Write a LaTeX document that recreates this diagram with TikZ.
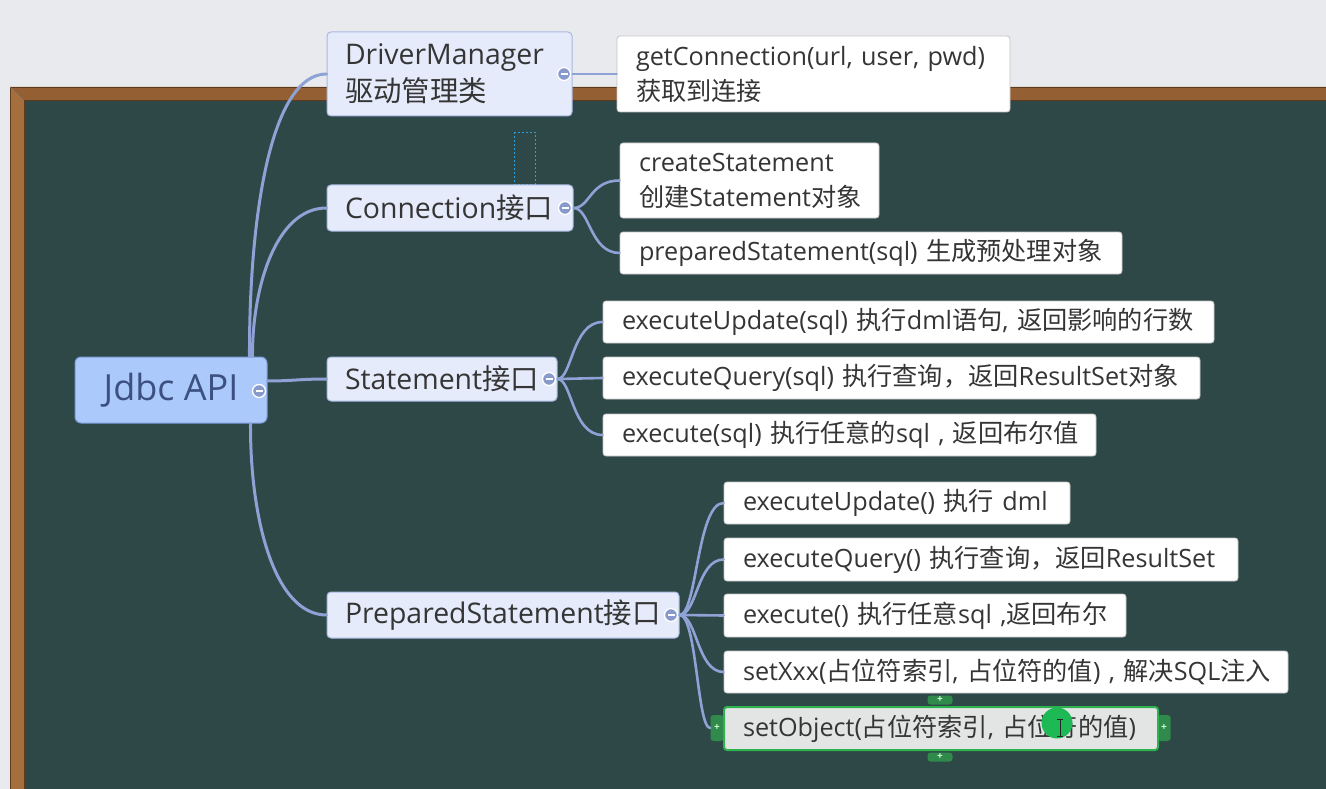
\documentclass[tikz,border=0pt]{standalone}
\usepackage{fontspec}
\setmainfont{Open Sans}
\newfontfamily\zhfont{Noto Sans CJK SC}
\newcommand\zh[1]{{\zhfont #1}}
\usetikzlibrary{calc}
\definecolor{bgc}{HTML}{E9EAED}
\definecolor{boardc}{HTML}{2E4847}
\definecolor{frametop}{HTML}{935F33}
\definecolor{frameleft}{HTML}{A56E3D}
\definecolor{framedark}{HTML}{5E3B1E}
\definecolor{linkc}{HTML}{8EA2D6}
\definecolor{rootfill}{HTML}{ABC9FA}
\definecolor{rootdraw}{HTML}{7C9BD8}
\definecolor{rootText}{HTML}{3C5181}
\definecolor{lvfill}{HTML}{E5EBFB}
\definecolor{lvdraw}{HTML}{A9B8E2}
\definecolor{leafdraw}{HTML}{C4C4C4}
\definecolor{txtc}{HTML}{353535}
\definecolor{selgreen}{HTML}{2DB24F}
\definecolor{handlegreen}{HTML}{2F8A4C}
\definecolor{cursorgreen}{HTML}{1DB954}
\definecolor{selfill}{HTML}{E3E4E4}
\definecolor{guidec}{HTML}{2E9FD8}
\tikzset{
  rootbox/.style={draw=rootdraw, fill=rootfill, line width=1pt, rounded corners=6pt,
    text=rootText, font=\fontsize{36pt}{40pt}\selectfont, inner sep=0pt, align=center},
  lvbox/.style={draw=lvdraw, fill=lvfill, line width=1pt, rounded corners=4pt,
    text=txtc, font=\fontsize{28.4pt}{37pt}\selectfont, inner xsep=18pt, inner ysep=0pt, align=left},
  leafbox/.style={draw=leafdraw, fill=white, line width=0.8pt, rounded corners=3pt,
    text=txtc, font=\fontsize{25.2pt}{35pt}\selectfont, inner xsep=19pt, inner ysep=0pt, align=left},
  selbox/.style={leafbox, draw=selgreen, fill=selfill, line width=2pt},
  lk/.style={draw=linkc, line width=3pt, line cap=round},
  lk2/.style={draw=linkc, line width=2.6pt, line cap=round},
  tog/.style={circle, draw=white, fill=linkc!95!black, line width=1.3pt, minimum size=13pt, inner sep=0pt,
    path picture={\draw[white, line width=1.6pt] ([xshift=-3.5pt]path picture bounding box.center) -- ([xshift=3.5pt]path picture bounding box.center);}},
  handle/.style={fill=handlegreen, rounded corners=3pt, draw=none, inner sep=0pt,
    text=white!80!green, font=\fontsize{10pt}{10pt}\selectfont\bfseries},
}
\begin{document}
\begin{tikzpicture}[x=1pt,y=-1pt]
\useasboundingbox (0,0) rectangle (1326,789);
% background and blackboard
\fill[bgc] (0,0) rectangle (1326,789);
\fill[frametop] (10,87) -- (1326,87) -- (1326,101) -- (24,101) -- cycle;
\fill[frameleft] (10,87) -- (24,101) -- (24,789) -- (10,789) -- cycle;
\draw[framedark, line width=0.8pt] (10,87) -- (1326,87);
\draw[framedark, line width=0.8pt] (10,87) -- (10,789);
\draw[framedark!70, line width=0.6pt] (10,87) -- (24,101);
\fill[boardc] (24,101) rectangle (1326,789);
\draw[framedark, line width=1pt] (24,101) -- (1326,101);
\draw[framedark, line width=1pt] (24,101) -- (24,789);

% guide (dashed)
\draw[guidec, line width=0.6pt, dash pattern=on 2pt off 2pt] (514,132) rectangle (535,184);

% nodes
\node[rootbox, minimum width=192pt, minimum height=66pt] (root) at (171,390) {Jdbc API};

\node[lvbox, minimum width=245pt, minimum height=84pt, text width=209pt] (dm) at (449.5,74)
  {\mbox{DriverManager}\\\mbox{\zh{驱动管理类}}};
\node[lvbox, minimum width=246pt, minimum height=46pt, text width=210pt] (conn) at (450,208)
  {\mbox{Connection\zh{接口}}};
\node[lvbox, minimum width=230pt, minimum height=44pt, text width=194pt] (stmt) at (442,379)
  {\mbox{Statement\zh{接口}}};
\node[lvbox, minimum width=352pt, minimum height=46pt, text width=316pt] (ps) at (503,615)
  {\mbox{PreparedStatement\zh{接口}}};

\node[leafbox, minimum width=393pt, minimum height=76pt, text width=355pt] (gc) at (813.5,74)
  {\mbox{getConnection(url, user, pwd)}\\\mbox{\zh{获取到连接}}};
\node[leafbox, minimum width=259pt, minimum height=75pt, text width=221pt] (cs) at (749.5,180.5)
  {\mbox{createStatement}\\\mbox{\zh{创建}Statement\zh{对象}}};
\node[leafbox, minimum width=502pt, minimum height=42pt, text width=464pt] (pst) at (871,253)
  {\mbox{preparedStatement(sql) \zh{生成预处理对象}}};

\node[leafbox, minimum width=611pt, minimum height=42pt, text width=573pt] (eu) at (908.5,322)
  {\mbox{executeUpdate(sql) \zh{执行}dml\zh{语句}, \zh{返回影响的行数}}};
\node[leafbox, minimum width=597pt, minimum height=42pt, text width=559pt] (eq) at (901.5,378)
  {\mbox{executeQuery(sql) \zh{执行查询，返回}ResultSet\zh{对象}}};
\node[leafbox, minimum width=493pt, minimum height=42pt, text width=455pt] (ex) at (849.5,435)
  {\mbox{execute(sql) \zh{执行任意的}sql , \zh{返回布尔值}}};

\node[leafbox, minimum width=346pt, minimum height=42pt, text width=308pt] (peu) at (897,503)
  {\mbox{executeUpdate() \zh{执行} dml}};
\node[leafbox, minimum width=514pt, minimum height=43pt, text width=476pt] (peq) at (981,559.5)
  {\mbox{executeQuery() \zh{执行查询，返回}ResultSet}};
\node[leafbox, minimum width=402pt, minimum height=43pt, text width=364pt] (pex) at (925,615.5)
  {\mbox{execute() \zh{执行任意}sql ,\zh{返回布尔}}};
\node[leafbox, minimum width=564pt, minimum height=42pt, text width=526pt] (psx) at (1006,672)
  {\mbox{setXxx(\zh{占位符索引}, \zh{占位符的值}) , \zh{解决}SQL\zh{注入}}};

% selection handles behind the selected node
\node[handle, minimum width=25pt, minimum height=9pt] (hT) at (940,700) {+};
\node[handle, minimum width=25pt, minimum height=9pt] (hB) at (940,757) {+};
\node[handle, minimum width=13pt, minimum height=26pt] (hL) at (717,728) {+};
\node[handle, minimum width=13pt, minimum height=26pt] (hR) at (1164,728) {+};
\node[selbox, minimum width=434pt, minimum height=43pt, text width=396pt] (pso) at (941,728.5)
  {\mbox{setObject(\zh{占位符索引}, \zh{占位符的值})}};

% connectors root -> level 1
\draw[lk] ($(root.north east)+(-18,0)$) .. controls (249,220) and (270,74) .. (dm.west);
\draw[lk] ($(root.north east)+(-15,0)$) .. controls (252,290) and (275,208) .. (conn.west);
\draw[lk] ($(root.east)+(0,-9)$) .. controls (292,381) and (300,379) .. (stmt.west);
\draw[lk] ($(root.south east)+(-17,0)$) .. controls (250,520) and (275,615) .. (ps.west);

% level 1 -> leaves
\draw[lk2] (dm.east) -- (gc.west);
\draw[lk2] (conn.east) .. controls (590,208) and (590,180.5) .. (cs.west);
\draw[lk2] (conn.east) .. controls (590,208) and (590,253) .. (pst.west);

\draw[lk2] (stmt.east) .. controls (572,379) and (572,322) .. (eu.west);
\draw[lk2] (stmt.east) -- (eq.west);
\draw[lk2] (stmt.east) .. controls (572,379) and (572,435) .. (ex.west);

\draw[lk2] (ps.east) .. controls (697,615) and (697,503) .. (peu.west);
\draw[lk2] (ps.east) .. controls (697,615) and (697,559.5) .. (peq.west);
\draw[lk2] (ps.east) -- (pex.west);
\draw[lk2] (ps.east) .. controls (697,615) and (697,672) .. (psx.west);
\draw[lk2] (ps.east) .. controls (697,615) and (697,728.5) .. (hL.west);

% collapse toggles
\node[tog] (tRoot) at (259,391) {};
\node[tog] (tDm) at (564,74) {};
\node[tog] (tConn) at (565,208) {};
\node[tog] (tStmt) at (549,379) {};
\node[tog] (tPs) at (671,615) {};

% cursor highlight
\node[circle, fill=cursorgreen, minimum size=31pt, inner sep=0pt] (cur) at (1057,723) {};
\draw[black!85, line width=1pt] (1060,719) -- (1060,736);
\draw[black!85, line width=1pt] (1057,719) -- (1063,719);
\draw[black!85, line width=1pt] (1057,736) -- (1063,736);
\end{tikzpicture}
\end{document}
